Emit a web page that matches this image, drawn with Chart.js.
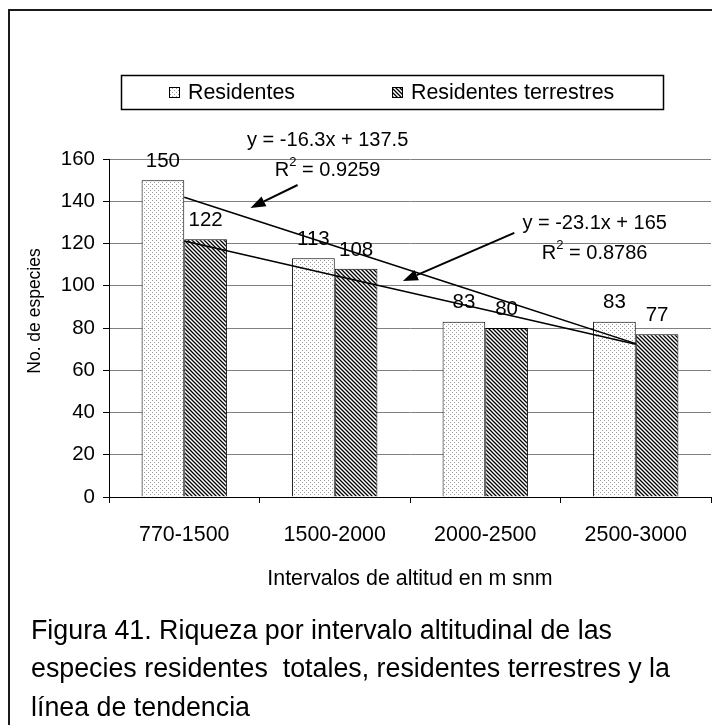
<!DOCTYPE html>
<html><head><meta charset="utf-8">
<script src="https://cdn.jsdelivr.net/npm/chart.js@4/dist/chart.umd.min.js"></script>
<style>
html,body{margin:0;padding:0;background:#fff;overflow:hidden;width:712px;height:725px;}
#frame{position:absolute;left:8px;top:9px;width:760px;height:760px;border:2px solid #1a1a1a;box-sizing:border-box;}
#wrap{position:absolute;left:0;top:0;width:712px;height:725px;}
#caption{position:absolute;left:31px;top:611px;font-family:"Liberation Sans",Arial,sans-serif;font-size:26.8px;line-height:38.3px;white-space:pre;color:#000;}
</style></head>
<body>
<div id="frame"></div>
<div id="wrap"><canvas id="c" width="712" height="725"></canvas></div>
<div id="caption">Figura 41. Riqueza por intervalo altitudinal de las
especies residentes  totales, residentes terrestres y la
línea de tendencia</div>
<script>
// ---- data ----
const categories = ['770-1500', '1500-2000', '2000-2500', '2500-3000'];
const residentes = [150, 113, 83, 83];
const terrestres = [122, 108, 80, 77];
const seriesNames = ['Residentes', 'Residentes terrestres'];
const yMin = 0, yMax = 160, yStep = 20;
// trend line coefficients (as printed in the chart): residentes, terrestres
const trendSlopes = [-23.1, -16.3];
const trendIntercepts = [165, 137.5];
const eqTexts = ['y = -16.3x + 137.5', 'y = -23.1x + 165'];
const r2Texts = [' = 0.9259', ' = 0.8786'];
const xTitle = 'Intervalos de altitud en m snm';
const yTitle = 'No. de especies';

const FONT = '"Liberation Sans", Arial, sans-serif';

function dotPattern() {
  const c = document.createElement('canvas'); c.width = 4; c.height = 4;
  const g = c.getContext('2d');
  g.fillStyle = '#fff'; g.fillRect(0, 0, 4, 4);
  g.fillStyle = '#9a9a9a'; g.fillRect(0, 0, 1, 1); g.fillRect(2, 2, 1, 1);
  return g.createPattern(c, 'repeat');
}
function hatchPattern() {
  const s = 4;
  const c = document.createElement('canvas'); c.width = s; c.height = s;
  const g = c.getContext('2d');
  g.fillStyle = '#fff'; g.fillRect(0, 0, s, s);
  g.strokeStyle = '#000'; g.lineWidth = 1.3;
  g.beginPath();
  g.moveTo(-1, -1); g.lineTo(s + 1, s + 1);
  g.moveTo(-1, s - 1); g.lineTo(1, s + 1);
  g.moveTo(s - 1, -1); g.lineTo(s + 1, 1);
  g.stroke();
  return g.createPattern(c, 'repeat');
}
const dots = dotPattern();
const hatch = hatchPattern();
const fills = [dots, hatch];

function trend(k) { return categories.map((c, i) => trendIntercepts[k] + trendSlopes[k] * (i + 1)); }

// annotation anchors in data space (category index, value)
const notes = {
  eq: [{i: 0.953, v: 169.0, r: 154.8}, {i: 2.727, v: 129.7, r: 115.5}],
  arrows: [{from: [0.753, 147.7], to: [0.44, 136.8]}, {from: [2.193, 125.0], to: [1.453, 102.2]}]
};

const labelPlugin = {
  id: 'labels',
  afterDatasetsDraw(chart) {
    const ctx = chart.ctx;
    ctx.save();
    ctx.font = '20.5px ' + FONT; ctx.fillStyle = '#000';
    ctx.textAlign = 'center'; ctx.textBaseline = 'middle';
    [0, 1].forEach(d => {
      const meta = chart.getDatasetMeta(d);
      meta.data.forEach((bar, i) => {
        ctx.fillText(String(chart.data.datasets[d].data[i]), bar.x, bar.y - 19);
      });
    });
    ctx.restore();
  }
};

const notePlugin = {
  id: 'notes',
  afterDraw(chart) {
    const ctx = chart.ctx;
    const xs = chart.scales.x, ys = chart.scales.y;
    const X = i => xs.getPixelForValue(i), Y = v => ys.getPixelForValue(v);
    ctx.save();
    ctx.fillStyle = '#000'; ctx.strokeStyle = '#000';
    ctx.textBaseline = 'middle';
    notes.eq.forEach((e, k) => {
      const cx = X(e.i);
      ctx.font = '20px ' + FONT; ctx.textAlign = 'center';
      ctx.fillText(eqTexts[k], cx, Y(e.v));
      ctx.textAlign = 'left';
      const wR = ctx.measureText('R').width;
      const wRest = ctx.measureText(r2Texts[k]).width;
      ctx.font = '13px ' + FONT;
      const w2 = ctx.measureText('2').width;
      const total = wR + w2 + wRest;
      const x0 = cx - total / 2;
      const yy = Y(e.r);
      ctx.font = '20px ' + FONT;
      ctx.fillText('R', x0, yy);
      ctx.font = '13px ' + FONT;
      ctx.fillText('2', x0 + wR, yy - 8);
      ctx.font = '20px ' + FONT;
      ctx.fillText(r2Texts[k], x0 + wR + w2, yy);
    });
    notes.arrows.forEach(a => {
      const x1 = X(a.from[0]), y1 = Y(a.from[1]);
      const x2 = X(a.to[0]), y2 = Y(a.to[1]);
      const ang = Math.atan2(y2 - y1, x2 - x1);
      const L = 15, W = 5.5;
      const bx = x2 - L * Math.cos(ang), by = y2 - L * Math.sin(ang);
      ctx.lineWidth = 2;
      ctx.beginPath(); ctx.moveTo(x1, y1); ctx.lineTo(bx, by); ctx.stroke();
      ctx.beginPath();
      ctx.moveTo(x2, y2);
      ctx.lineTo(bx + W * Math.sin(ang), by - W * Math.cos(ang));
      ctx.lineTo(bx - W * Math.sin(ang), by + W * Math.cos(ang));
      ctx.closePath(); ctx.fill();
    });
    // y axis title
    ctx.save();
    ctx.translate(35, 311);
    ctx.rotate(-Math.PI / 2);
    ctx.font = '17.5px ' + FONT; ctx.textAlign = 'center';
    ctx.fillText(yTitle, 0, 0);
    ctx.restore();
    // legend
    ctx.lineWidth = 1.5; ctx.strokeStyle = '#000';
    ctx.strokeRect(121.5, 75.5, 542, 34);
    const items = [{x: 169}, {x: 392}];
    ctx.font = '21.4px ' + FONT; ctx.textAlign = 'left';
    items.forEach((it, k) => {
      ctx.fillStyle = fills[k];
      ctx.fillRect(it.x, 87, 10, 10);
      ctx.lineWidth = 1; ctx.strokeStyle = '#000';
      ctx.strokeRect(it.x + 0.5, 87.5, 10, 10);
      ctx.fillStyle = '#000';
      ctx.fillText(seriesNames[k], it.x + 19, 93);
    });
    ctx.restore();
  }
};

new Chart(document.getElementById('c'), {
  data: {
    labels: categories,
    datasets: [
      {type: 'bar', label: seriesNames[0], data: residentes, backgroundColor: dots, borderColor: '#000', borderWidth: 1, order: 2, categoryPercentage: 0.567, barPercentage: 1},
      {type: 'bar', label: seriesNames[1], data: terrestres, backgroundColor: hatch, borderColor: '#000', borderWidth: 1, order: 2, categoryPercentage: 0.567, barPercentage: 1},
      {type: 'line', label: 'trend1', data: trend(0), borderColor: '#000', borderWidth: 1.5, pointRadius: 0, fill: false, order: 1},
      {type: 'line', label: 'trend2', data: trend(1), borderColor: '#000', borderWidth: 1.5, pointRadius: 0, fill: false, order: 1}
    ]
  },
  options: {
    responsive: false, animation: false,
    layout: {padding: {top: 159, right: 1, left: 0, bottom: 0}},
    plugins: {legend: {display: false}, tooltip: {enabled: false}, title: {display: false}},
    scales: {
      x: {
        grid: {display: true, drawOnChartArea: false, drawTicks: true, tickLength: 6, color: '#000', offset: true},
        border: {display: true, color: '#000', width: 1},
        ticks: {font: {family: FONT, size: 21.4}, color: '#000', padding: 19, maxRotation: 0},
        title: {display: true, text: xTitle, font: {family: FONT, size: 21.4}, color: '#000', padding: {top: 0, bottom: 133}},
        afterFit(s) { s.height = 228; }
      },
      y: {
        min: yMin, max: yMax,
        ticks: {stepSize: yStep, font: {family: FONT, size: 20.5}, color: '#000', padding: 8},
        grid: {color: '#808080', tickLength: 6, tickColor: '#000', lineWidth: 1},
        border: {display: true, color: '#000', width: 1},
        afterFit(s) { s.width = 109; }
      }
    }
  },
  plugins: [labelPlugin, notePlugin]
});
</script>
</body></html>
